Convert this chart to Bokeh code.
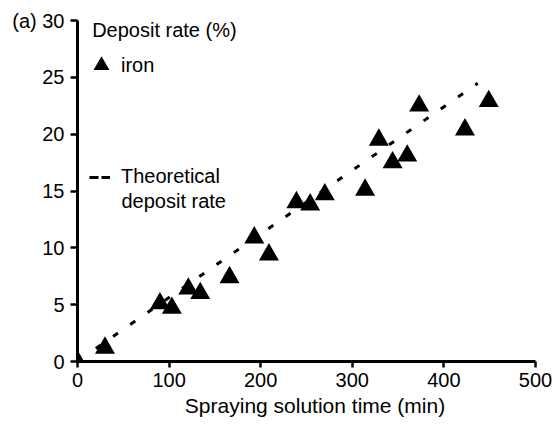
from bokeh.plotting import figure
from bokeh.models import FixedTicker, Range1d, Label, Legend, LegendItem
from bokeh.embed import file_html
from bokeh.resources import INLINE

# ---- data ----
time_min = [0, 30, 90, 103, 121, 134, 166, 193, 209, 239, 254, 270, 314, 329, 344, 360, 373, 423, 449]
deposit = [0.0, 1.2, 5.1, 4.7, 6.4, 6.0, 7.4, 10.9, 9.4, 14.0, 13.8, 14.7, 15.1, 19.5, 17.5, 18.1, 22.5, 20.4, 22.9]
theory_time = [20, 437]
theory_rate = [1.15, 24.48]
x_ticks = [0, 100, 200, 300, 400, 500]
y_ticks = [0, 5, 10, 15, 20, 25, 30]
panel_tag = "(a)"

FONT = "Liberation Sans"
FS = "20px"

p = figure(width=553, height=427, x_range=Range1d(0, 518.6), y_range=Range1d(0, 31.41),
           output_backend="svg", toolbar_location=None,
           min_border_left=77, min_border_right=1, min_border_top=4, min_border_bottom=66)
p.title.visible = False
p.xgrid.visible = False
p.ygrid.visible = False
p.outline_line_color = None

def style_axis(ax):
    ax.axis_line_width = 3
    ax.axis_line_color = "black"
    ax.major_tick_line_width = 2.5
    ax.major_tick_line_color = "black"
    ax.major_tick_in = 0
    ax.minor_tick_line_color = None
    ax.major_label_text_font = FONT
    ax.major_label_text_font_size = FS
    ax.major_label_text_color = "black"

xa = p.xaxis[0]
style_axis(xa)
xa.ticker = FixedTicker(ticks=x_ticks)
xa.bounds = (0, 500)
xa.major_tick_out = 6
xa.major_label_standoff = 5
xa.axis_label = "Spraying solution time (min)"
xa.axis_label_text_font = FONT
xa.axis_label_text_font_size = "21px"
xa.axis_label_text_font_style = "normal"
xa.axis_label_text_color = "black"
xa.axis_label_standoff = 4

ya = p.yaxis[0]
style_axis(ya)
ya.ticker = FixedTicker(ticks=y_ticks)
ya.bounds = (0, 30)
ya.major_tick_out = 7
ya.major_label_standoff = 6
ya.major_label_overrides = {30: panel_tag + " 30"}

theory = p.line(theory_time, theory_rate, line_width=3, line_dash="6 15", line_color="black")
pts = p.scatter(time_min, deposit, marker="triangle", size=20, fill_color="black", line_color=None)
# same theoretical line, hidden in the plot, only used for the legend key's dash style
leg_line = p.line(theory_time, theory_rate, line_width=3, line_dash="9 3", line_color="black", visible=False)

common = dict(padding=0, spacing=0, margin=0, border_line_color=None, background_fill_alpha=0,
              inactive_fill_alpha=0,
              label_text_font=FONT, label_text_font_size=FS, label_text_color="black")
leg1 = Legend(items=[LegendItem(label="iron", renderers=[pts])], location=(4, 276),
              glyph_width=40, glyph_height=40, label_standoff=-4, **common)
leg2 = Legend(items=[LegendItem(label="Theoretical", renderers=[leg_line])], location=(12, 173),
              glyph_width=21, glyph_height=20, label_standoff=11, **common)
p.add_layout(leg1)
p.add_layout(leg2)

for x, y, t in [(16.0, 29.18, "Deposit rate (%)"), (48.0, 14.08, "deposit rate")]:
    p.add_layout(Label(x=x, y=y, text=t, text_baseline="alphabetic", text_font=FONT,
                       text_font_size=FS, text_color="black"))

open("out.html", "w").write(file_html(p, INLINE))
